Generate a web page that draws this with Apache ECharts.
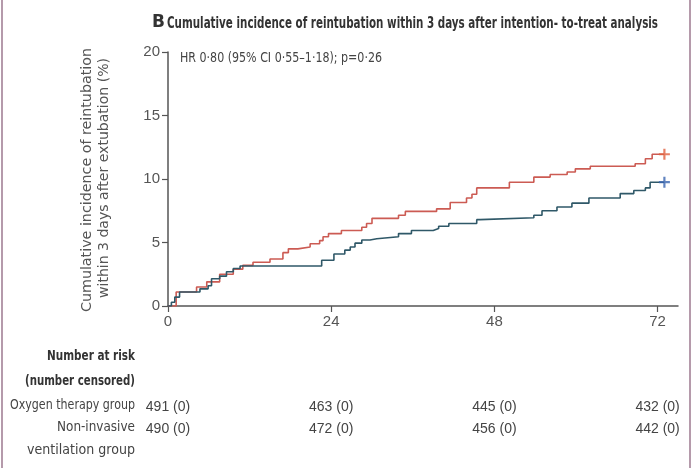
<!DOCTYPE html>
<html>
<head>
<meta charset="utf-8">
<script src="https://cdn.jsdelivr.net/npm/echarts@6/dist/echarts.min.js"></script>
<style>html,body{margin:0;padding:0;background:#fff;}#c{width:693px;height:468px;}</style>
</head>
<body>
<div id="c"></div>
<script>
// Data
const oxygenTimes = [0, 1.2, 4.2, 5.7, 7.6, 9.6, 11.0, 12.5, 15.0, 16.9, 17.7, 19.1, 20.9, 22.3, 22.8, 23.6, 25.5, 28.5, 29.2, 30.0, 33.9, 34.9, 39.5, 41.5, 43.9, 44.7, 45.4, 50.2, 53.8, 56.2, 58.7, 59.9, 62.1, 68.7, 70.2, 71.2, 73.0];
const oxygenValues = [0, 1.1, 1.5, 1.9, 2.5, 2.9, 3.2, 3.45, 3.7, 4.2, 4.5, 4.65, 4.9, 5.15, 5.45, 5.7, 5.95, 6.2, 6.5, 6.9, 7.15, 7.45, 7.65, 8.15, 8.5, 8.8, 9.3, 9.75, 10.15, 10.35, 10.55, 10.8, 11.0, 11.2, 11.6, 11.95, 11.95];
const nivTimes = [0, 0.5, 1.0, 1.7, 4.7, 5.9, 6.4, 7.6, 8.6, 9.6, 10.6, 22.6, 24.4, 26.0, 26.8, 27.5, 28.5, 29.7, 30.7, 33.9, 35.8, 39.0, 39.8, 41.3, 45.4, 45.9, 53.8, 55.0, 57.2, 59.4, 61.9, 66.5, 68.5, 70.2, 70.9, 73.0];
const nivValues = [0, 0.3, 0.7, 1.1, 1.35, 1.6, 2.15, 2.35, 2.7, 2.95, 3.15, 3.6, 4.1, 4.4, 4.65, 4.95, 5.2, 5.3, 5.45, 5.7, 5.95, 6.1, 6.28, 6.5, 6.8, 6.95, 7.15, 7.5, 7.8, 8.1, 8.5, 8.85, 9.1, 9.3, 9.75, 9.75];
const xTicks = [0, 24, 48, 72];
const yTicks = [0, 5, 10, 15, 20];
const riskOxygen = ['491 (0)', '463 (0)', '445 (0)', '432 (0)'];
const riskNiv = ['490 (0)', '472 (0)', '456 (0)', '442 (0)'];
const riskLabels = ['Oxygen therapy group', 'Non-invasive', 'ventilation group'];
const titleText = 'Cumulative incidence of reintubation within 3 days after intention- to-treat analysis';
const hrText = 'HR 0·80 (95% CI 0·55–1·18); p=0·26';
const yName1 = 'Cumulative incidence of reintubation';
const yName2 = 'within 3 days after extubation (%)';

const FAM = '"DejaVu Sans", sans-serif';
const zip = (a, b) => a.map((t, i) => [t, b[i]]);
const plus = 'path://M4,0H6V4H10V6H6V10H4V6H0V4H4Z';

const mctx = document.createElement('canvas').getContext('2d');
function fit(text, font, target) { mctx.font = font; return target / mctx.measureText(text).width; }

function condText(text, font, x, y, target, align, fill, extra) {
  const el = {
    type: 'text', x: x, y: y, scaleX: fit(text, font, target), originX: 0, originY: 0,
    style: {text: text, font: font, fill: fill, align: align, verticalAlign: 'middle'}
  };
  return Object.assign(el, extra || {});
}

const f14 = '14px ' + FAM;
const f14b = 'bold 14px ' + FAM;

const chart = echarts.init(document.getElementById('c'));
chart.setOption({
  animation: false,
  backgroundColor: '#fff',
  grid: {left: 168, right: 15, top: 52, bottom: 162, containLabel: false},
  xAxis: [{
    type: 'value', min: 0, max: 75, interval: 24,
    axisLine: {show: true, onZero: false, lineStyle: {color: '#555', width: 1.5}},
    axisTick: {show: true, length: 6, lineStyle: {color: '#555', width: 1.2}, customValues: xTicks},
    axisLabel: {color: '#555', fontFamily: '"Liberation Sans", sans-serif', fontSize: 15, margin: 8, customValues: xTicks},
    splitLine: {show: false}
  }, {
    type: 'value', min: 0, max: 75, position: 'bottom', offset: 90,
    axisLine: {show: false}, axisTick: {show: false}, splitLine: {show: false},
    axisLabel: {
      customValues: xTicks, margin: 0, color: '#444', fontFamily: '"Liberation Sans", sans-serif', fontSize: 14, lineHeight: 22,
      formatter: v => { const i = xTicks.indexOf(v); return i < 0 ? '' : riskOxygen[i] + '\n' + riskNiv[i]; }
    }
  }],
  yAxis: {
    type: 'value', min: 0, max: 20, interval: 5,
    axisLine: {show: true, lineStyle: {color: '#555', width: 1.5}},
    axisTick: {show: true, length: 6, lineStyle: {color: '#555', width: 1.2}},
    axisLabel: {color: '#555', fontFamily: '"Liberation Sans", sans-serif', fontSize: 15, margin: 8},
    splitLine: {show: false}
  },
  graphic: [
    {type: 'text', x: 152, y: 23, style: {text: 'B', font: 'bold 17px ' + FAM, fill: '#333', verticalAlign: 'middle'}},
    condText(titleText, 'bold 15px ' + FAM, 167, 24, 491, 'left', '#333'),
    condText(hrText, f14, 180, 58, 202, 'left', '#444'),
    condText('Number at risk', f14b, 135, 356, 88, 'right', '#333'),
    condText('(number censored)', f14b, 135, 381, 110, 'right', '#333'),
    condText(riskLabels[0], f14, 135, 405, 125, 'right', '#444'),
    condText(riskLabels[1], f14, 135, 427, 78, 'right', '#444'),
    condText(riskLabels[2], f14, 135, 450, 108, 'right', '#444'),
    condText(yName1, '14px ' + FAM, 87, 180, 264, 'center', '#555', {rotation: Math.PI / 2}),
    condText(yName2, '14px ' + FAM, 104, 178, 240, 'center', '#555', {rotation: Math.PI / 2}),
    {type: 'rect', x: 1, y: 0, shape: {width: 2, height: 468}, style: {fill: '#b59aab'}},
    {type: 'rect', x: 689, y: 0, shape: {width: 2, height: 468}, style: {fill: '#b59aab'}}
  ],
  series: [
    {
      name: 'Oxygen therapy group', type: 'line', step: 'end', showSymbol: false,
      data: zip(oxygenTimes, oxygenValues),
      lineStyle: {color: '#cc5b53', width: 1.6}, z: 3
    },
    {
      name: 'Non-invasive ventilation group', type: 'line', step: 'end', showSymbol: false,
      data: zip(nivTimes, nivValues),
      lineStyle: {color: '#2f5868', width: 1.6}, z: 3
    },
    {
      type: 'scatter', symbol: plus, symbolSize: 11,
      data: [[oxygenTimes[oxygenTimes.length - 1], oxygenValues[oxygenValues.length - 1]]],
      itemStyle: {color: '#e0603e'}, z: 4
    },
    {
      type: 'scatter', symbol: plus, symbolSize: 11,
      data: [[nivTimes[nivTimes.length - 1], nivValues[nivValues.length - 1]]],
      itemStyle: {color: '#3a65b0'}, z: 4
    }
  ]
});
</script>
</body>
</html>
